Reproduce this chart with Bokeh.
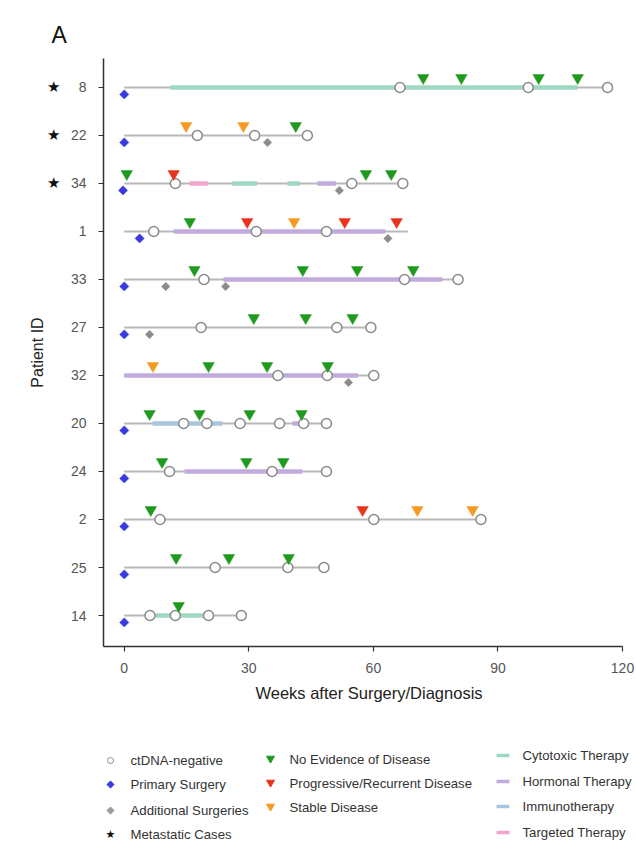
import math
from bokeh.plotting import figure
from bokeh.models import Range1d, FixedTicker, LinearAxis
from bokeh.layouts import column
from bokeh.embed import file_html
from bokeh.resources import INLINE
from bokeh.core.properties import value

FONT = "Liberation Sans"

# ---------------- data ----------------
patients = ["8", "22", "34", "1", "33", "27", "32", "20", "24", "2", "25", "14"]
metastatic = ["8", "22", "34"]
followup_end = [116.4, 44.1, 67.1, 68.3, 80.4, 59.4, 60.1, 48.7, 48.7, 85.9, 48.1, 28.2]

ctdna_negative = {
    "8": [66.4, 97.3, 116.4],
    "22": [17.6, 31.4, 44.1],
    "34": [12.3, 54.8, 67.1],
    "1": [7.1, 31.8, 48.7],
    "33": [19.2, 67.5, 80.4],
    "27": [18.5, 51.2, 59.4],
    "32": [37.0, 48.9, 60.1],
    "20": [14.3, 19.9, 27.9, 37.4, 43.2, 48.7],
    "24": [10.9, 35.6, 48.7],
    "2": [8.6, 60.1, 85.9],
    "25": [21.9, 39.4, 48.1],
    "14": [6.2, 12.3, 20.3, 28.2],
}
primary_surgery = {"8": 0, "22": 0, "34": -0.3, "1": 3.7, "33": 0, "27": 0,
                   "20": 0, "24": 0, "2": 0, "25": 0, "14": 0}
additional_surgery = {"22": [34.5], "34": [51.8], "1": [63.5], "33": [10.0, 24.4],
                      "27": [6.1], "32": [54.0]}
no_evidence = {
    "8": [72.0, 81.2, 99.8, 109.2],
    "22": [41.3],
    "34": [0.6, 58.2, 64.3],
    "1": [15.8],
    "33": [16.9, 43.0, 56.1, 69.6],
    "27": [31.2, 43.7, 55.0],
    "32": [20.3, 34.4, 49.0],
    "20": [6.1, 18.1, 30.2, 42.7],
    "24": [9.1, 29.4, 38.3],
    "2": [6.4],
    "25": [12.5, 25.2, 39.6],
    "14": [13.1],
}
progressive = {"34": [11.9], "1": [29.6, 53.1, 65.6], "2": [57.4]}
stable = {"22": [14.9, 28.7], "1": [40.9], "32": [6.9], "2": [70.6, 83.9]}

therapy_pid = ["8", "34", "34", "34", "34", "1", "33", "32", "20", "20", "24", "14"]
therapy_type = ["Cytotoxic", "Targeted", "Cytotoxic", "Cytotoxic", "Hormonal", "Hormonal",
                "Hormonal", "Hormonal", "Immunotherapy", "Hormonal", "Hormonal", "Cytotoxic"]
therapy_start = [11.1, 15.8, 26.0, 39.3, 46.5, 11.9, 23.9, 0.0, 6.8, 40.5, 14.5, 7.6]
therapy_end = [109.2, 20.1, 32.0, 42.3, 51.0, 62.9, 76.6, 56.3, 23.6, 43.2, 42.9, 19.1]

x_ticks = [0, 30, 60, 90, 120]
x_min, x_max = -5, 120

# ---------------- styles ----------------
therapy_colors = {"Cytotoxic": "#9fd8c0", "Hormonal": "#c2abdc",
                  "Immunotherapy": "#a9c6dc", "Targeted": "#f2a6cf"}
C_LINE = "#b8b8b8"
C_NED = "#1f9a1f"
C_PD = "#e8341c"
C_SD = "#f59a23"
C_PRIM = "#3a3ae0"
C_ADD = "#8c8c8c"
C_CIRC = "#8a8a8a"

n = len(patients)
ypos = {pid: n - 1 - i for i, pid in enumerate(patients)}
TRI_OFF = 0.2
DIA_OFF = -0.145

W = 636
LEFT, RIGHT_BORDER = 103, 2
AXIS_RIGHT_PX = 622                     # where x = 120 sits
frame_w = W - LEFT - RIGHT_BORDER
px_per = (AXIS_RIGHT_PX - LEFT) / (x_max - x_min)
x_end = x_min + frame_w / px_per


def flatten(d):
    xs, ys = [], []
    for pid, vals in d.items():
        if not isinstance(vals, list):
            vals = [vals]
        for v in vals:
            xs.append(v)
            ys.append(ypos[pid])
    return xs, ys


P_H = 712
p = figure(width=W, height=P_H, x_range=Range1d(x_min, x_end),
           y_range=Range1d(-0.6458, 11.604), output_backend="svg",
           toolbar_location=None, min_border_left=LEFT, min_border_right=RIGHT_BORDER,
           min_border_top=58, min_border_bottom=P_H - 646)
p.outline_line_color = None
p.grid.visible = False

# title "A"
p.title.text = "A"
p.title.align = "left"
p.title.offset = -52
p.title.standoff = 22
p.title.text_font = FONT
p.title.text_font_size = "23px"
p.title.text_font_style = "normal"
p.title.text_color = "#111111"

# base follow-up lines
p.segment(x0=[0] * n, y0=[ypos[q] for q in patients], x1=followup_end,
          y1=[ypos[q] for q in patients], line_color=C_LINE, line_width=2)

# therapy segments
p.segment(x0=therapy_start, x1=therapy_end,
          y0=[ypos[q] for q in therapy_pid], y1=[ypos[q] for q in therapy_pid],
          line_color=[therapy_colors[t] for t in therapy_type], line_width=4.5,
          line_cap="butt")

# surgeries (diamonds, below line)
xs, ys = flatten(primary_surgery)
p.scatter(xs, [y + DIA_OFF for y in ys], marker="square", angle=math.pi / 4,
          size=6.5, fill_color=C_PRIM, line_color=C_PRIM, line_width=0.5)
xs, ys = flatten(additional_surgery)
p.scatter(xs, [y + DIA_OFF for y in ys], marker="square", angle=math.pi / 4,
          size=6, fill_color=C_ADD, line_color=C_ADD, line_width=0.5)

# ctDNA-negative circles
xs, ys = flatten(ctdna_negative)
p.scatter(xs, ys, marker="circle", size=10, fill_color="white",
          line_color=C_CIRC, line_width=1.5)

# disease status triangles (above line)
for d, c in [(no_evidence, C_NED), (progressive, C_PD), (stable, C_SD)]:
    xs, ys = flatten(d)
    p.scatter(xs, [y + TRI_OFF for y in ys], marker="inverted_triangle", size=11.5,
              fill_color=c, line_color=c, line_width=0.5)

# axes
p.xaxis.ticker = FixedTicker(ticks=x_ticks)
p.xaxis.bounds = (x_min, x_max)
p.yaxis.ticker = FixedTicker(ticks=list(range(n)))
p.yaxis.major_label_overrides = {ypos[q]: q for q in patients}
for ax in (p.xaxis[0], p.yaxis[0]):
    ax.axis_line_color = "#333333"
    ax.axis_line_width = 1.5
    ax.major_tick_line_color = "#333333"
    ax.major_tick_line_width = 1.2
    ax.major_tick_out = 5
    ax.major_tick_in = 0
    ax.minor_tick_line_color = None
    ax.major_label_text_font = FONT
    ax.major_label_text_font_size = "14px"
    ax.major_label_text_color = "#555555"
p.xaxis.axis_label = "Weeks after Surgery/Diagnosis"
p.xaxis.axis_label_text_font = FONT
p.xaxis.axis_label_text_font_size = "16.5px"
p.xaxis.axis_label_text_font_style = "normal"
p.xaxis.axis_label_text_color = "#222222"
p.xaxis.major_label_standoff = 11
p.xaxis.axis_label_standoff = 8
p.yaxis.major_label_standoff = 12

# second left axis: metastatic stars + axis title
star_axis = LinearAxis(ticker=FixedTicker(ticks=[ypos[q] for q in metastatic]),
                       major_label_overrides={ypos[q]: "★" for q in metastatic})
star_axis.axis_line_color = None
star_axis.major_tick_line_color = None
star_axis.minor_tick_line_color = None
star_axis.major_tick_out = 0
star_axis.major_tick_in = 0
star_axis.major_label_standoff = 7
star_axis.major_label_text_font = "DejaVu Sans"
star_axis.major_label_text_font_size = "15px"
star_axis.major_label_text_color = "#111111"
star_axis.axis_label = "Patient ID"
star_axis.axis_label_text_font = FONT
star_axis.axis_label_text_font_size = "16px"
star_axis.axis_label_text_font_style = "normal"
star_axis.axis_label_text_color = "#222222"
star_axis.axis_label_standoff = -2
p.add_layout(star_axis, "left")

# ---------------- legend (separate panel, aligned with the plot frame) ----------------
L_H = 867 - P_H
lf = figure(width=W, height=L_H, x_range=Range1d(LEFT, W - RIGHT_BORDER),
            y_range=Range1d(L_H, 0), output_backend="svg", toolbar_location=None,
            min_border_left=LEFT, min_border_right=RIGHT_BORDER,
            min_border_top=0, min_border_bottom=0)
lf.axis.visible = False
lf.grid.visible = False
lf.outline_line_color = None

col1_labels = ["ctDNA-negative", "Primary Surgery", "Additional Surgeries", "Metastatic Cases"]
col2_labels = ["No Evidence of Disease", "Progressive/Recurrent Disease", "Stable Disease"]
col3_labels = ["Cytotoxic Therapy", "Hormonal Therapy", "Immunotherapy", "Targeted Therapy"]

r1 = [48, 72, 98, 122]
r2 = [47, 71, 95]
r3 = [43, 69, 94, 120]
mx1, tx1 = 110, 130
mx2, tx2 = 270, 289
lx3a, lx3b, tx3 = 496, 509, 522

lf.scatter([mx1], [r1[0]], marker="circle", size=6, fill_color="white",
           line_color=C_CIRC, line_width=1)
lf.scatter([mx1], [r1[1]], marker="square", angle=math.pi / 4, size=5,
           fill_color=C_PRIM, line_color=C_PRIM)
lf.scatter([mx1], [r1[2]], marker="square", angle=math.pi / 4, size=5,
           fill_color="#999999", line_color="#999999")
lf.text([mx1], [r1[3]], text=["★"], text_align="center", text_baseline="middle",
        text_font_size="11px", text_color="#111111", text_font=value("DejaVu Sans"))
for y, c in zip(r2, [C_NED, C_PD, C_SD]):
    lf.scatter([mx2], [y - 1], marker="inverted_triangle", size=8, fill_color=c,
               line_color=c)
for y, t in zip(r3, ["Cytotoxic", "Hormonal", "Immunotherapy", "Targeted"]):
    lf.segment([lx3a], [y], [lx3b], [y], line_color=therapy_colors[t], line_width=3.5)

for xs_, ys_, labs in [(tx1, r1, col1_labels), (tx2, r2, col2_labels), (tx3, r3, col3_labels)]:
    lf.text([xs_] * len(labs), ys_, text=labs, text_align="left", text_baseline="middle",
            text_font_size="13.2px", text_color="#333333", text_font=value(FONT))

layout = column(p, lf, spacing=0)
open("out.html", "w").write(file_html(layout, INLINE))
